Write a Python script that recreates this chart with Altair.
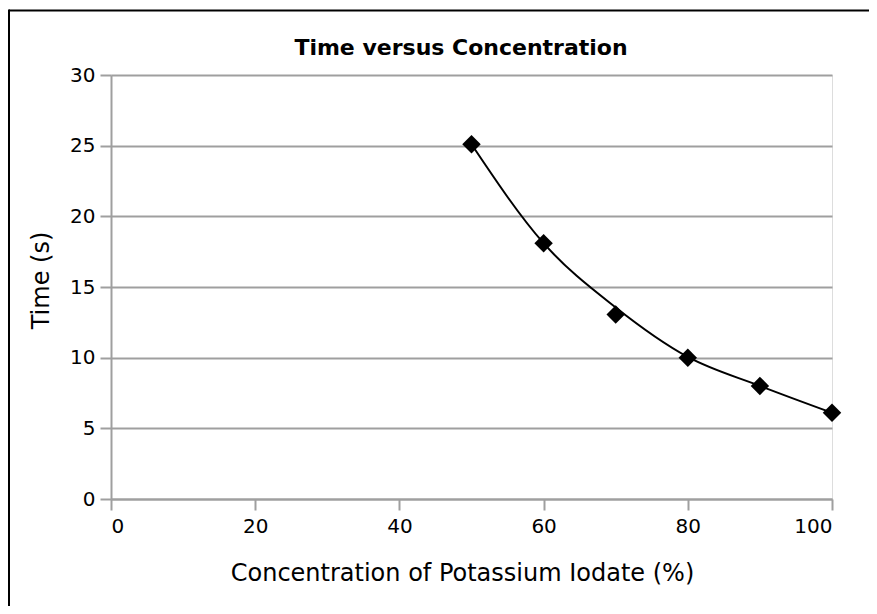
import altair as alt
import pandas as pd

# Data
concentration = [50, 60, 70, 80, 90, 100]          # %
time_markers = [25.1, 18.1, 13.05, 10.0, 8.0, 6.1]   # s (diamond markers)
time_curve = [25.1, 18.1, 13.55, 10.05, 8.0, 6.1]    # s

x_ticks = [0, 20, 40, 60, 80, 100]
y_ticks = [0, 5, 10, 15, 20, 25, 30]

chart_title = "Time versus Concentration"

df = pd.DataFrame({"conc": concentration, "time": time_markers, "curve": time_curve})

FONT = "DejaVu Sans"
GRAY = "#9f9f9f"

x_enc = alt.X(
    "conc:Q",
    scale=alt.Scale(domain=[0, 100], nice=False, zero=False),
    axis=alt.Axis(
        values=x_ticks,
        title="Concentration of Potassium Iodate (%)",
        grid=False,
        domainColor=GRAY, domainWidth=2,
        tickColor=GRAY, tickWidth=2, tickSize=11,
        labelFont=FONT, labelFontSize=20, labelColor="#000000", labelPadding=6,
        titleFont=FONT, titleFontSize=24, titleFontWeight="normal", titleColor="#000000",
        titleX=351, titleY=74, titleAlign="center", titleBaseline="middle",
    ),
)

y_axis = alt.Axis(
    values=y_ticks,
    title="Time (s)",
    grid=True, gridColor=GRAY, gridWidth=2,
    domainColor=GRAY, domainWidth=2,
    tickColor=GRAY, tickWidth=2, tickSize=11,
    labelFont=FONT, labelFontSize=20, labelColor="#000000", labelPadding=5,
    titleFont=FONT, titleFontSize=24, titleFontWeight="normal", titleColor="#000000",
    titleX=-70, titleY=205, titleAngle=270, titleAlign="center", titleBaseline="middle",
)
y_scale = alt.Scale(domain=[0, 30], nice=False, zero=True)

curve = alt.Chart(df).mark_line(
    color="#000000", strokeWidth=2, interpolate="monotone"
).encode(
    x=x_enc,
    y=alt.Y("curve:Q", scale=y_scale, axis=y_axis),
)

points = alt.Chart(df).mark_point(
    shape="diamond", filled=True, color="#000000", size=340, opacity=1
).encode(
    x=alt.X("conc:Q"),
    y=alt.Y("time:Q", scale=y_scale),
)

deco = alt.Data(values=[{"label": chart_title}])
frame_top = alt.Chart(deco).mark_rule(color="#000000", strokeWidth=2).encode(
    x=alt.value(-102), x2=alt.value(800), y=alt.value(-64.5)
)
frame_left = alt.Chart(deco).mark_rule(color="#000000", strokeWidth=2).encode(
    x=alt.value(-102), y=alt.value(-65.5), y2=alt.value(560)
)
title_text = alt.Chart(deco).mark_text(
    font=FONT, fontSize=22, fontWeight="bold", color="#000000",
    align="center", baseline="middle",
).encode(
    text="label:N", x=alt.value(350), y=alt.value(-27)
)

chart = alt.layer(frame_top, frame_left, title_text, curve, points).properties(
    width=721,
    height=424,
    autosize=alt.AutoSizeParams(type="none"),
    padding={"left": 103, "top": 67, "right": 37, "bottom": 107},
).configure_view(
    stroke=GRAY, strokeWidth=2
).configure(background="#ffffff")

chart.save("out.html", embed_options={"renderer": "svg", "actions": False})
